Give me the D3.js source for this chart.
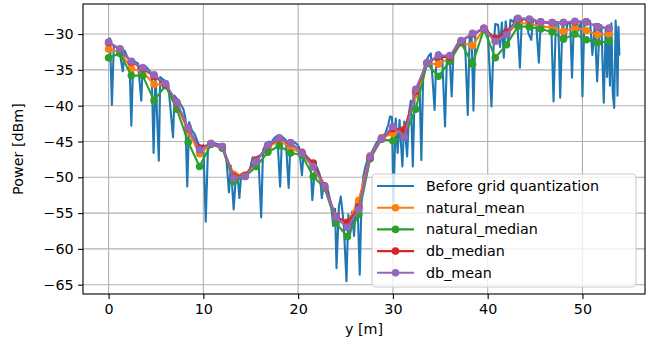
<!DOCTYPE html>
<html>
<head>
<meta charset="utf-8">
<script src="https://cdn.jsdelivr.net/npm/d3@7"></script>
<style>
  body { margin: 0; background: #fff; }
  text { font-family: "DejaVu Sans", sans-serif; }
</style>
</head>
<body>
<svg id="chart" width="659" height="345"></svg>
<script>
// raw measurements (before grid quantization)
const rawX = [0.0, 0.15, 0.35, 0.55, 0.8, 1.1, 1.5, 1.7, 2.0, 2.2, 2.4, 2.6, 2.8, 3.1, 3.45, 3.6, 3.9,
  4.3, 4.55, 4.75, 4.95, 5.3, 5.45, 5.7, 6.0, 6.3, 6.8, 6.95, 7.3, 7.6, 7.9, 8.1, 8.3, 8.5, 8.8,
  9.1, 9.4, 9.7, 10.0, 10.25, 10.5, 10.8, 11.2, 11.6, 11.9, 12.2, 12.45, 12.7, 12.9, 13.2, 13.4, 13.6, 13.8,
  14.0, 14.3, 14.6, 14.9, 15.2, 15.5, 15.8, 16.1, 16.3, 16.6, 16.9, 17.2, 17.5, 17.8, 18.1, 18.3,
  18.7, 19.0, 19.2, 19.5, 19.9, 20.1, 20.4, 20.6, 20.8, 21.1, 21.3, 21.5, 21.8, 22.0,
  22.3, 22.5, 22.7, 23.0, 23.2, 23.5, 23.7, 23.9, 24.05, 24.3, 24.5, 24.8, 25.1, 25.3, 25.5, 25.7,
  25.9, 26.1, 26.3, 26.5, 26.7, 26.9, 27.1, 27.4, 27.7, 28.0, 28.3, 28.6, 28.9, 29.2,
  29.5, 29.7, 29.9, 30.05, 30.3, 30.5, 30.7, 31.0, 31.2, 31.5, 31.7, 31.9, 32.1, 32.3, 32.6, 32.8, 33.0,
  33.2, 33.5, 33.8, 34.0, 34.4, 34.6, 34.9, 35.2, 35.5, 35.7, 36.0, 36.2, 36.4, 36.7, 37.0, 37.3, 37.6,
  37.9, 38.1, 38.3, 38.5, 38.7, 39.1, 39.4, 39.7, 40.0, 40.4, 40.6, 40.8, 41.1, 41.3,
  41.5, 41.7, 41.9, 42.2, 42.4, 42.7, 42.9, 43.1, 43.4, 43.6, 43.9, 44.1, 44.3, 44.6, 44.8,
  45.1, 45.4, 45.6, 45.9, 46.4, 46.7, 46.95, 47.2, 47.45, 47.65, 47.9, 48.2, 48.4,
  48.7, 48.9, 49.1, 49.4, 49.6, 49.85, 50.0, 50.2, 50.5, 50.8, 51.05, 51.3, 51.55, 51.8, 52.0,
  52.25, 52.45, 52.6, 52.75, 52.9, 53.05, 53.2, 53.35, 53.5, 53.6, 53.7, 53.8, 53.9];
const rawY = [-31.0, -30.6, -39.9, -31.6, -31.8, -32.0, -35.2, -32.3, -33.3, -33.6, -42.8, -33.5, -33.9, -34.1, -39.3, -34.3, -34.5,
  -35.1, -35.5, -46.6, -35.6, -47.7, -36.0, -36.3, -36.6, -37.1, -44.4, -38.6, -39.2, -39.8, -40.5, -41.7, -51.3, -42.3, -43.5,
  -44.0, -45.1, -45.8, -45.5, -56.2, -45.3, -45.0, -45.3, -45.4, -45.6, -46.0, -47.8, -52.1, -48.4, -54.5, -50.4, -49.5, -52.9,
  -49.5, -49.6, -49.9, -48.9, -47.2, -47.5, -47.0, -55.6, -46.2, -45.3, -45.0, -45.1, -44.5, -44.2, -51.3, -44.3,
  -44.8, -51.5, -44.9, -45.0, -45.4, -45.8, -49.7, -46.3, -46.9, -47.4, -47.9, -53.2, -48.2, -48.6,
  -49.7, -52.9, -50.8, -51.2, -52.1, -54.0, -56.8, -54.4, -62.7, -54.1, -52.7, -56.3, -64.5, -55.2, -57.9, -54.8,
  -58.2, -53.6, -55.0, -63.6, -52.5, -49.7, -48.5, -47.2, -46.6, -45.9, -45.1, -44.8, -44.2, -43.9,
  -42.7, -41.5, -41.6, -53.5, -41.8, -46.6, -42.0, -48.5, -42.2, -47.1, -41.0, -39.3, -48.5, -38.2, -37.5, -36.6, -47.6,
  -35.3, -33.8, -33.0, -32.7, -40.6, -32.6, -32.5, -33.1, -42.9, -33.2, -33.4, -38.7, -32.4, -31.6, -31.0, -30.8, -30.7,
  -41.3, -30.2, -30.0, -40.7, -29.9, -29.6, -29.2, -29.1, -29.5, -40.1, -32.3, -28.6, -28.7, -31.8,
  -28.4, -33.3, -28.2, -31.5, -28.0, -28.3, -27.6, -27.8, -34.7, -28.0, -27.8, -28.1, -29.9, -30.8, -27.9,
  -28.2, -34.0, -28.0, -28.3, -28.5, -28.2, -39.4, -28.3, -28.4, -38.9, -28.2, -31.0, -28.6,
  -28.4, -36.1, -28.0, -28.1, -29.5, -28.3, -38.7, -28.2, -28.4, -28.2, -32.9, -28.6, -36.6, -29.2, -28.8,
  -39.6, -29.3, -36.0, -29.0, -37.2, -28.5, -38.3, -40.3, -28.1, -30.5, -38.6, -29.0, -33.0];

// grid bins (1.2 m)
const binX = [0, 1.2, 2.4, 3.6, 4.8, 6.0, 7.2, 8.4, 9.6, 10.8, 12.0, 13.2, 14.4, 15.6, 16.8, 18.0, 19.2, 20.4,
  21.6, 22.8, 24.0, 25.2, 26.4, 27.6, 28.8, 30.0, 31.2, 32.4, 33.6, 34.8, 36.0, 37.2, 38.4, 39.6, 40.8,
  42.0, 43.2, 44.4, 45.6, 46.8, 48.0, 49.2, 50.4, 51.6, 52.8];
const naturalMean = [-32.1, -32.5, -34.8, -35.3, -37.0, -37.1, -39.9, -43.6, -46.7, -45.4, -45.9, -49.6, -49.7, -47.6,
  -45.8, -44.9, -45.8, -46.8, -48.6, -51.5, -55.6, -56.5, -53.2, -47.0, -44.5, -43.9, -43.3, -38.5, -34.1, -34.2,
  -33.4, -31.2, -31.6, -29.3, -31.0, -30.1, -28.4, -28.6, -28.9, -29.1, -29.6, -29.1, -29.5, -30.1, -30.0];
const naturalMedian = [-33.3, -32.7, -35.8, -35.8, -39.3, -37.2, -40.5, -45.1, -48.5, -45.4, -45.9, -50.6, -49.9, -48.5,
  -46.5, -45.6, -46.6, -46.9, -49.9, -51.5, -56.4, -58.3, -55.2, -47.4, -44.7, -44.9, -44.3, -40.5, -34.1, -35.9,
  -33.8, -31.2, -34.2, -29.3, -33.3, -31.5, -28.9, -29.0, -29.3, -29.7, -30.7, -30.0, -30.8, -31.2, -31.0];
const dbMedian = [-31.2, -32.1, -33.9, -34.8, -35.9, -37.0, -39.6, -43.2, -45.9, -45.3, -45.7, -49.9, -49.8, -47.6,
  -45.6, -44.6, -45.2, -46.5, -48.0, -51.2, -55.5, -56.3, -54.2, -47.2, -44.6, -43.2, -43.4, -38.0, -34.0, -33.2,
  -33.2, -31.0, -30.0, -29.2, -30.6, -29.7, -27.9, -28.0, -28.3, -28.4, -28.4, -28.3, -28.3, -29.0, -29.2];
const dbMean = [-31.1, -32.1, -33.8, -34.7, -35.7, -36.9, -39.5, -43.1, -46.2, -45.3, -45.7, -50.1, -49.9, -47.8,
  -45.5, -44.5, -45.2, -46.6, -48.5, -51.3, -55.6, -57.0, -54.5, -47.1, -44.6, -42.9, -44.4, -37.7, -34.0, -33.0,
  -33.0, -30.9, -29.9, -29.2, -31.0, -30.1, -27.8, -27.9, -28.3, -28.4, -28.4, -28.2, -28.3, -29.0, -29.2];

const xTicks = [0, 10, 20, 30, 40, 50];
const yTicks = [-65, -60, -55, -50, -45, -40, -35, -30];

const series = [
  { name: 'natural_mean', color: '#ff7f0e', values: naturalMean },
  { name: 'natural_median', color: '#2ca02c', values: naturalMedian },
  { name: 'db_median', color: '#d62728', values: dbMedian },
  { name: 'db_mean', color: '#9467bd', values: dbMean }
];

const fontSize = '14.3px';
const plot = { left: 83, right: 645, top: 4, bottom: 294 };

const svg = d3.select('#chart');

const x = d3.scaleLinear().domain([-2.7, 56.6]).range([plot.left, plot.right]);
const y = d3.scaleLinear().domain([-66.3, -25.8]).range([plot.bottom, plot.top]);

// grid
const grid = svg.append('g');
grid.selectAll('line.gx')
  .data(xTicks)
  .enter()
  .append('line')
  .attr('x1', d => x(d)).attr('x2', d => x(d))
  .attr('y1', plot.top).attr('y2', plot.bottom)
  .attr('stroke', '#b0b0b0').attr('stroke-width', 1.1);
grid.selectAll('line.gy')
  .data(yTicks)
  .enter()
  .append('line')
  .attr('y1', d => y(d)).attr('y2', d => y(d))
  .attr('x1', plot.left).attr('x2', plot.right)
  .attr('stroke', '#b0b0b0').attr('stroke-width', 1.1);

// raw line
const line = d3.line()
  .x(d => x(d[0]))
  .y(d => y(d[1]));

svg.append('path')
  .datum(d3.zip(rawX, rawY))
  .attr('d', line)
  .attr('fill', 'none')
  .attr('stroke', '#1f77b4')
  .attr('stroke-width', 2.1)
  .attr('stroke-linejoin', 'round');

// quantized series
series.forEach(s => {
  const pts = d3.zip(binX, s.values);
  svg.append('path')
    .datum(pts)
    .attr('d', line)
    .attr('fill', 'none')
    .attr('stroke', s.color)
    .attr('stroke-width', 2.1)
    .attr('stroke-linejoin', 'round');
  svg.append('g')
    .selectAll('circle')
    .data(pts)
    .enter()
    .append('circle')
    .attr('cx', d => x(d[0]))
    .attr('cy', d => y(d[1]))
    .attr('r', 3.8)
    .attr('fill', s.color);
});

// axes
const xAxis = svg.append('g')
  .attr('transform', `translate(0,${plot.bottom})`)
  .call(d3.axisBottom(x).tickValues(xTicks).tickSize(4.9).tickPadding(4.5).tickSizeOuter(0));
const yAxis = svg.append('g')
  .attr('transform', `translate(${plot.left},0)`)
  .call(d3.axisLeft(y).tickValues(yTicks).tickSize(4.9).tickPadding(4.5).tickSizeOuter(0));

[xAxis, yAxis].forEach(a => {
  a.select('.domain').remove();
  a.selectAll('line').attr('stroke', '#000').attr('stroke-width', 1.1);
  a.selectAll('text')
    .attr('fill', '#000')
    .style('font-size', fontSize)
    .style('font-family', '"DejaVu Sans", sans-serif');
});

// spines
svg.append('rect')
  .attr('x', plot.left).attr('y', plot.top)
  .attr('width', plot.right - plot.left)
  .attr('height', plot.bottom - plot.top)
  .attr('fill', 'none')
  .attr('stroke', '#000')
  .attr('stroke-width', 1.1);

// axis labels
svg.append('text')
  .attr('x', (plot.left + plot.right) / 2)
  .attr('y', 334)
  .attr('text-anchor', 'middle')
  .style('font-size', fontSize)
  .text('y [m]');

svg.append('text')
  .attr('transform', `translate(23,${(plot.top + plot.bottom) / 2}) rotate(-90)`)
  .attr('text-anchor', 'middle')
  .style('font-size', fontSize)
  .text('Power [dBm]');

// legend
const legend = svg.append('g');
legend.append('rect')
  .attr('x', 372).attr('y', 174)
  .attr('width', 264).attr('height', 113)
  .attr('rx', 4)
  .attr('fill', '#fff').attr('fill-opacity', 0.8)
  .attr('stroke', '#cccccc').attr('stroke-width', 1.1);

const legendItems = [{ name: 'Before grid quantization', color: '#1f77b4', marker: false }]
  .concat(series.map(s => ({ name: s.name, color: s.color, marker: true })));

legendItems.forEach((item, i) => {
  const cy = 186 + i * 21.7;
  legend.append('line')
    .attr('x1', 377).attr('x2', 414)
    .attr('y1', cy).attr('y2', cy)
    .attr('stroke', item.color).attr('stroke-width', 2.1);
  if (item.marker) {
    legend.append('circle')
      .attr('cx', 395.5).attr('cy', cy).attr('r', 3.8)
      .attr('fill', item.color);
  }
  legend.append('text')
    .attr('x', 426).attr('y', cy)
    .attr('dominant-baseline', 'central')
    .style('font-size', fontSize)
    .text(item.name);
});
</script>
</body>
</html>
